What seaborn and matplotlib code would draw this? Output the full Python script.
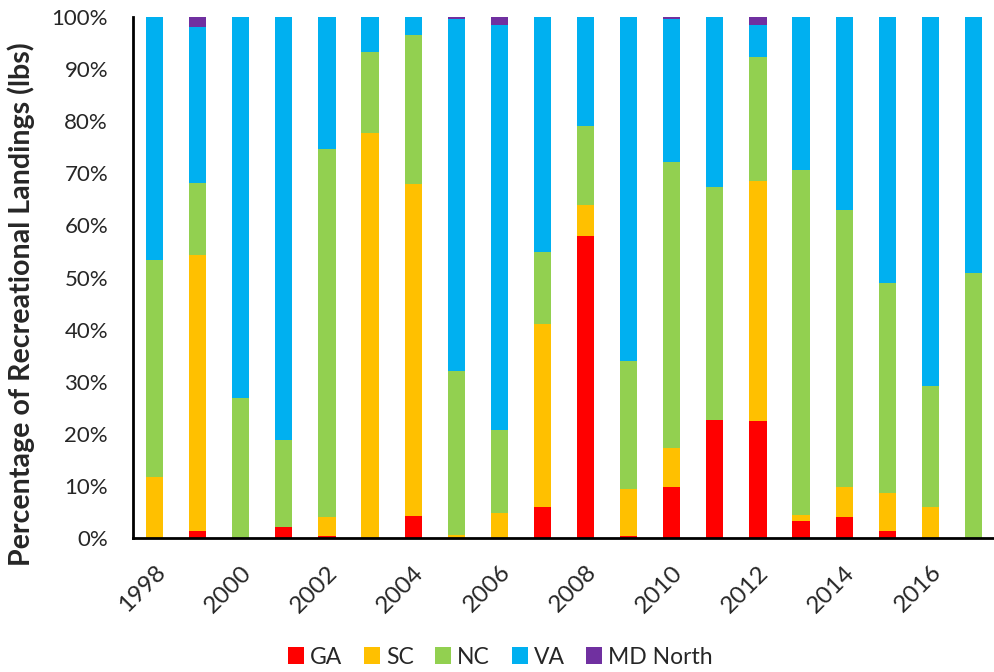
import matplotlib
matplotlib.use("Agg")
import matplotlib.pyplot as plt
import seaborn as sns
import pandas as pd
import numpy as np
from matplotlib.patches import Patch
from matplotlib.ticker import FuncFormatter, FixedLocator

years = list(range(1998, 2018))
GA = [0.0, 1.4, 0.0, 2.2, 0.3, 0.0, 4.3, 0.0, 0.0, 5.9, 58.0, 0.3, 9.7, 22.7, 22.4, 3.2, 4.0, 1.4, 0.0, 0.0]
SC = [11.7, 52.9, 0.0, 0.0, 3.8, 77.8, 63.7, 0.5, 4.8, 35.2, 6.0, 9.2, 7.5, 0.0, 46.2, 1.3, 5.8, 7.3, 6.0, 0.0]
NC = [41.6, 13.9, 26.8, 16.6, 70.5, 15.4, 28.6, 31.5, 15.9, 13.7, 15.0, 24.5, 54.9, 44.6, 23.8, 66.2, 53.1, 40.3, 23.2, 50.9]
VA = [46.7, 29.8, 73.2, 81.2, 25.4, 6.8, 3.4, 67.7, 77.8, 45.2, 21.0, 66.0, 27.6, 32.7, 6.1, 29.3, 37.1, 51.0, 70.8, 49.1]
MD = [0.0, 2.0, 0.0, 0.0, 0.0, 0.0, 0.0, 0.3, 1.5, 0.0, 0.0, 0.0, 0.3, 0.0, 1.5, 0.0, 0.0, 0.0, 0.0, 0.0]

series_names = ["GA", "SC", "NC", "VA", "MD North"]
colors = ["#FF0000", "#FFC000", "#92D050", "#00B0F0", "#7030A0"]

sns.set_style("white")
plt.rcParams["font.family"] = ["Lato", "DejaVu Sans"]

df = pd.DataFrame({"year": [str(y) for y in years], "GA": GA, "SC": SC, "NC": NC, "VA": VA, "MD North": MD})
cum = df[series_names].cumsum(axis=1)

fig = plt.figure(figsize=(9.95, 6.72), dpi=100)
ax = fig.add_axes([133/995, 134/672, 1 - 133/995, (538-17)/672])

# draw cumulative layers from top to bottom so each overlays the previous
for name, col in reversed(list(zip(series_names, colors))):
    sns.barplot(x=df["year"], y=cum[name], color=col, width=0.4, ax=ax,
                saturation=1, edgecolor="none", linewidth=0)

ax.set_ylim(0, 100)
ax.set_xlim(-0.5, len(years) - 0.5)
ax.yaxis.set_major_locator(FixedLocator(np.arange(0, 101, 10)))
ax.yaxis.set_major_formatter(FuncFormatter(lambda v, p: f"{int(v)}%"))
ax.set_ylabel("Percentage of Recreational Landings (lbs)", fontsize=20.6, fontweight="bold")
ax.yaxis.set_label_coords((35 - 133) / 862, (538 - 304) / 521)
ax.set_xlabel("")

# x tick labels every other year at bar centers; tick marks at category boundaries
ax.set_xticks(range(0, len(years), 2))
ax.set_xticklabels([str(y) for y in years[::2]], rotation=45, ha="right", rotation_mode="anchor", fontsize=17.5)
ax.tick_params(axis="x", which="major", length=0, pad=17)
ax.set_xticks(np.arange(-0.5, len(years), 1), minor=True)
ax.tick_params(axis="x", which="minor", length=5.5, width=1.5, direction="out", color="black")
ax.tick_params(axis="y", length=6, width=1.5, direction="out", color="black", labelsize=16, pad=12)

for s in ["top", "right"]:
    ax.spines[s].set_visible(False)
for s in ["left", "bottom"]:
    ax.spines[s].set_color("black")
    ax.spines[s].set_linewidth(2)
ax.grid(False)

handles = [Patch(facecolor=c, edgecolor="none") for c in colors]
fig.legend(handles, series_names, loc="center", bbox_to_anchor=(0.503, 15/672), ncol=5,
           frameon=False, fontsize=16.5, handlelength=0.7, handleheight=0.7, columnspacing=0.95,
           handletextpad=0.25, borderaxespad=0, borderpad=0)

fig.savefig("out.png", dpi=100)
